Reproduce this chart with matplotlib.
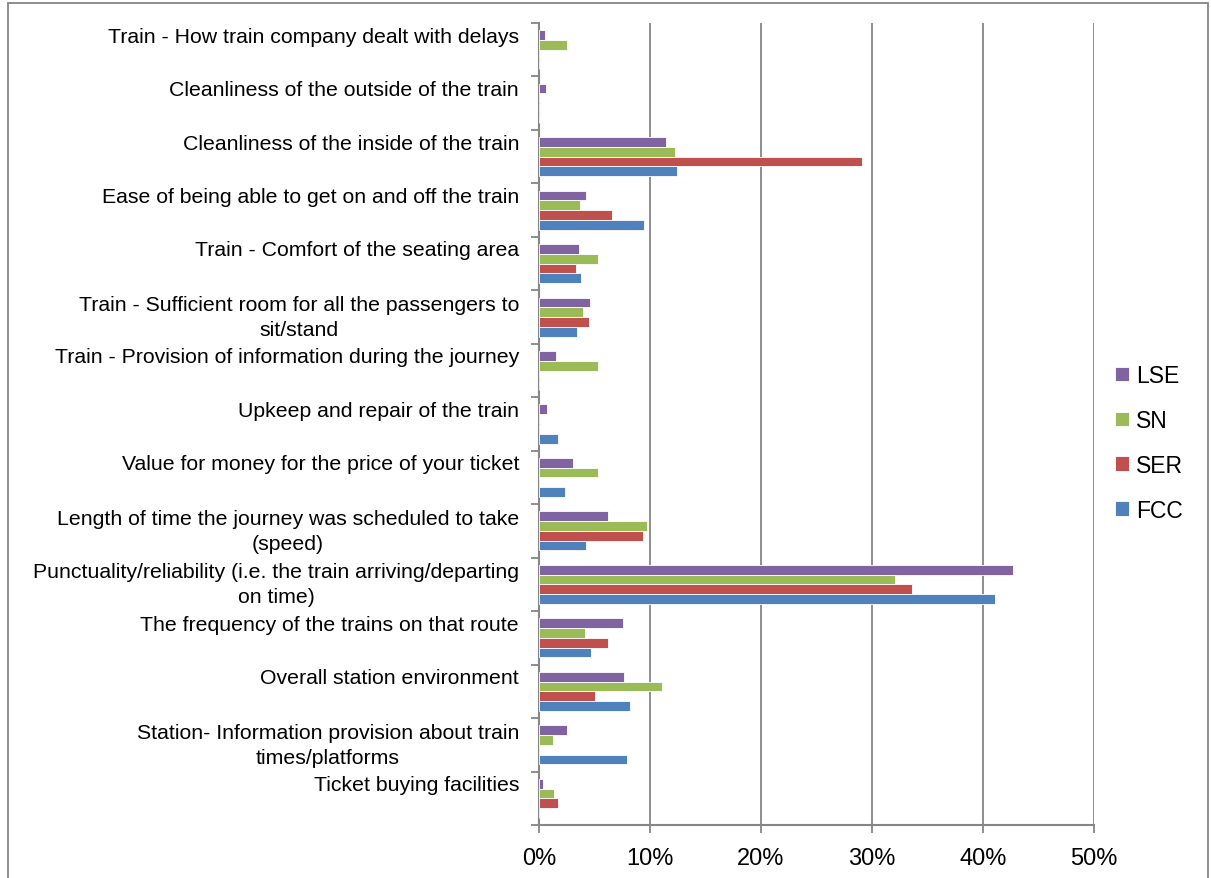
import numpy as np
import matplotlib.pyplot as plt
from matplotlib.patches import Rectangle
from matplotlib.ticker import FuncFormatter, MultipleLocator

plt.rcParams["font.family"] = ["Liberation Sans", "DejaVu Sans"]

# categories, top to bottom
categories = [
    "Train - How train company dealt with delays",
    "Cleanliness of the outside of the train",
    "Cleanliness of the inside of the train",
    "Ease of being able to get on and off the train",
    "Train - Comfort of the seating area",
    "Train - Sufficient room for all the passengers to\nsit/stand",
    "Train - Provision of information during the journey",
    "Upkeep and repair of the train",
    "Value for money for the price of your ticket",
    "Length of time the journey was scheduled to take\n(speed)",
    "Punctuality/reliability (i.e. the train arriving/departing\non time)",
    "The frequency of the trains on that route",
    "Overall station environment",
    "Station- Information provision about train\ntimes/platforms",
    "Ticket buying facilities",
]

# share of responses (%)
lse = [0.5, 0.6, 11.4, 4.2, 3.6, 4.6, 1.55, 0.7, 3.1, 6.25, 42.7, 7.6, 7.7, 2.5, 0.4]
sn = [2.5, 0, 12.25, 3.7, 5.3, 4.0, 5.3, 0, 5.3, 9.7, 32.1, 4.15, 11.1, 1.25, 1.35]
ser = [0, 0, 29.1, 6.55, 3.3, 4.5, 0, 0, 0, 9.35, 33.6, 6.2, 5.05, 0, 1.7]
fcc = [0, 0, 12.4, 9.5, 3.8, 3.45, 0, 1.75, 2.35, 4.2, 41.05, 4.65, 8.2, 7.95, 0]

series = [("LSE", lse, "#8064A2"), ("SN", sn, "#9BBB59"),
          ("SER", ser, "#C0504D"), ("FCC", fcc, "#4F81BD")]

fig = plt.figure(figsize=(12.11, 8.79), dpi=100)
ax = fig.add_axes([0.4451, 0.0603, 0.4583, 0.9124])

y = np.arange(len(categories))
h = 0.1825
for k, (name, vals, col) in enumerate(series):
    ax.barh(y + (k - 1.5) * h, vals, height=h, color=col,
            edgecolor="white", linewidth=0.6, label=name, zorder=3)

ax.set_xlim(0, 50)
ax.set_ylim(len(categories) - 0.5, -0.5)
ax.xaxis.set_major_locator(MultipleLocator(10))
ax.xaxis.set_major_formatter(FuncFormatter(lambda v, p: f"{v:.0f}%"))
ax.grid(axis="x", color="#868686", linewidth=1.3, zorder=0)

grey = "#868686"
for s in ["top", "right"]:
    ax.spines[s].set_visible(False)
for s in ["left", "bottom"]:
    ax.spines[s].set_color(grey)
    ax.spines[s].set_linewidth(1.5)

ax.tick_params(axis="x", colors=grey, length=6, width=1.3, pad=10,
               labelsize=17, labelcolor="black")
ax.set_yticks([])
ax.set_yticks(np.arange(-0.5, len(categories)), minor=True)
ax.tick_params(axis="y", which="minor", colors=grey, length=6, width=1.3)

# category labels, single lines sit half a line above the group centre
tr = ax.get_yaxis_transform()
for i, lab in enumerate(categories):
    yy = i if "\n" in lab else i - 0.255
    ax.text(-0.036, yy, lab, transform=tr, ha="right", va="center",
            multialignment="center", fontsize=15.3, linespacing=1.4)

fig.legend(loc="center left", bbox_to_anchor=(0.921, 0.495), frameon=False,
           fontsize=16.5, handlelength=0.6, handleheight=0.6,
           handletextpad=0.3, labelspacing=0.95, borderpad=0, borderaxespad=0)

fig.patches.append(Rectangle((8 / 1211, -0.02), 1200 / 1211, 1.02 - 4 / 879,
                             transform=fig.transFigure, fill=False,
                             edgecolor=grey, linewidth=1.3))

fig.savefig("out.png", dpi=100)
